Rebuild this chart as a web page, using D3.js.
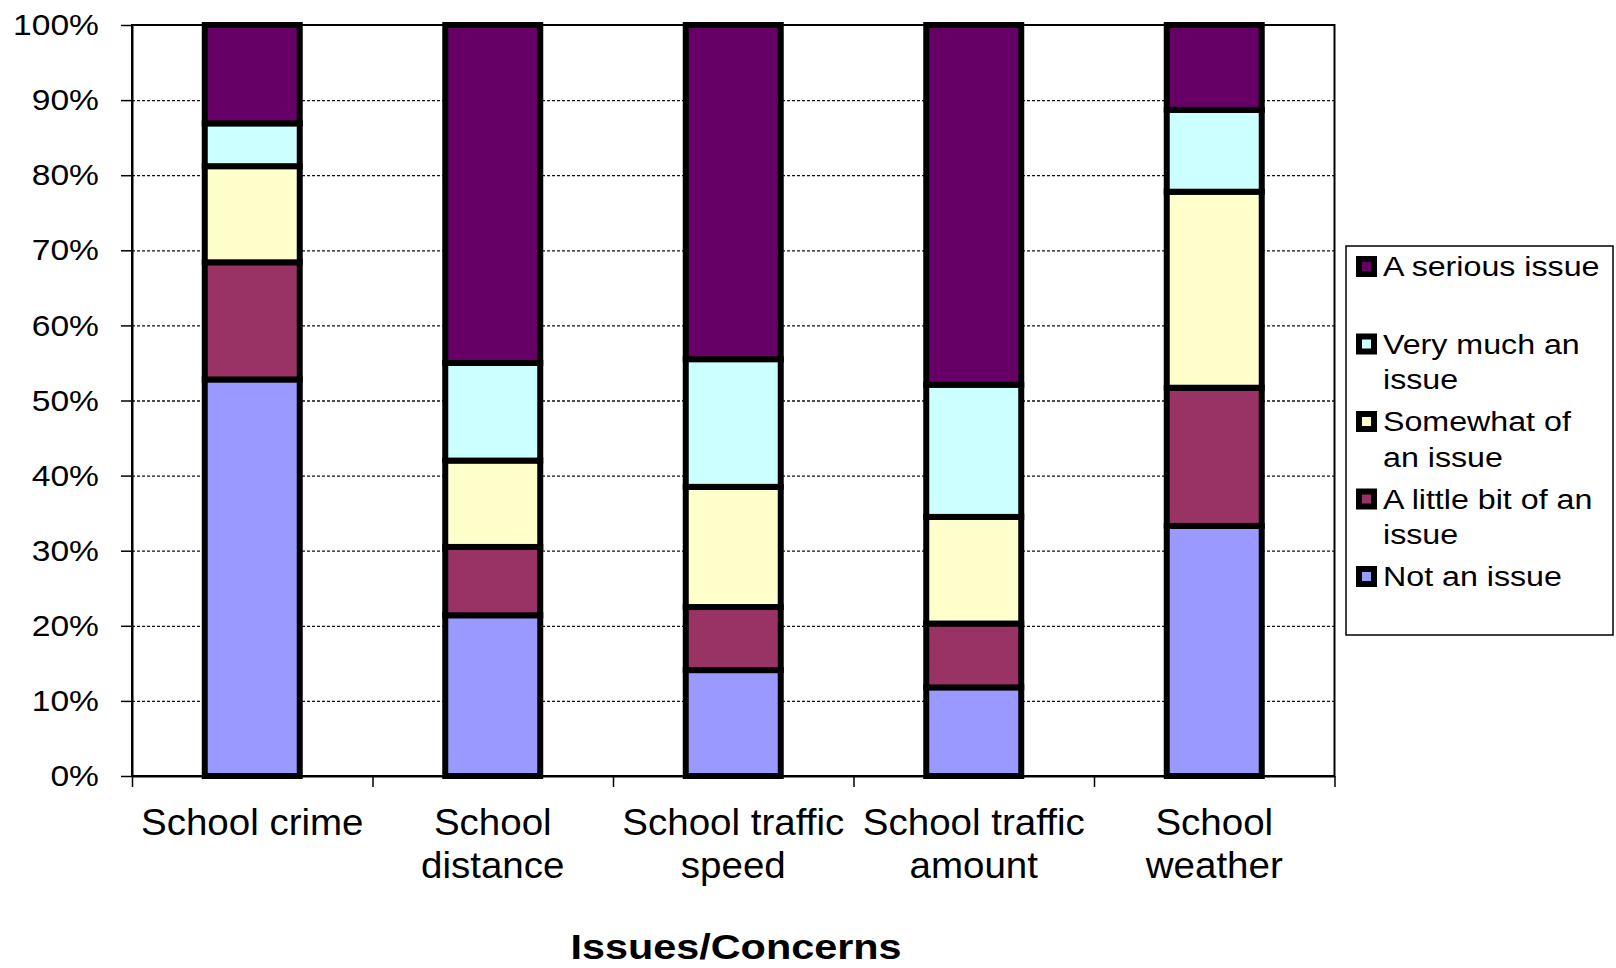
<!DOCTYPE html>
<html>
<head>
<meta charset="utf-8">
<script src="https://cdn.jsdelivr.net/npm/d3@7"></script>
<style>
  body { margin: 0; background: #fff; }
  svg { display: block; font-family: "Liberation Sans", Arial, sans-serif; }
</style>
</head>
<body>
<div class="container"></div>
<script>
// data (percent of answers)
const categories = ["School crime", "School distance", "School traffic speed", "School traffic amount", "School weather"];
const categoryLines = [["School crime"], ["School", "distance"], ["School traffic", "speed"], ["School traffic", "amount"], ["School", "weather"]];

const seriesNames = ["Not an issue", "A little bit of an issue", "Somewhat of an issue", "Very much an issue", "A serious issue"];
const legendLines = [["Not an issue"], ["A little bit of an", "issue"], ["Somewhat of", "an issue"], ["Very much an", "issue"], ["A serious issue"]];

const notAnIssue = [52.8, 21.4, 14.1, 11.8, 33.3];
const littleBit  = [15.6,  9.1,  8.4,  8.5, 18.4];
const somewhat   = [12.8, 11.5, 16.0, 14.2, 26.1];
const veryMuch   = [ 5.7, 13.0, 17.0, 17.6, 10.9];
const serious    = [13.1, 45.0, 44.5, 47.9, 11.3];

const colors = ["#9999FF", "#993366", "#FFFFCC", "#CCFFFF", "#660066"];
const yTicks = [0, 10, 20, 30, 40, 50, 60, 70, 80, 90, 100];

const allSeries = [notAnIssue, littleBit, somewhat, veryMuch, serious];
const table = categories.map((c, i) => {
    const row = { category: c };
    seriesNames.forEach((s, j) => row[s] = allSeries[j][i]);
    return row;
});

// frame
const margin = { top: 25, right: 281.5, bottom: 192, left: 132 };
const W = 1616, H = 968;
const width = W - margin.left - margin.right,
      height = H - margin.top - margin.bottom;

const svg = d3.select(".container")
    .append("svg")
    .attr("width", W)
    .attr("height", H);

svg.append("rect").attr("width", W).attr("height", H).attr("fill", "#fff");

const canvas = svg.append("g")
    .attr("transform", `translate(${margin.left}, ${margin.top})`);

const x = d3.scaleBand()
    .domain(categories)
    .range([0, width])
    .paddingInner(0.605)
    .paddingOuter(0.3025);

const y = d3.scaleLinear()
    .domain([0, 100])
    .range([height, 0]);

// dashed gridlines
canvas.append("g")
    .call(d3.axisLeft(y).tickValues(yTicks.filter(d => d > 0 && d < 100)).tickSize(-width).tickFormat(""))
    .call(g => g.select(".domain").remove())
    .selectAll("line")
    .attr("stroke", "#111")
    .attr("stroke-width", 1.3)
    .attr("stroke-dasharray", "3,2");

// plot frame
canvas.append("rect")
    .attr("width", width)
    .attr("height", height)
    .attr("fill", "none")
    .attr("stroke", "#000")
    .attr("stroke-width", 2);

// y axis
const yAxis = canvas.append("g")
    .call(d3.axisLeft(y).tickValues(yTicks).tickFormat(d => d + "%").tickSize(11).tickSizeOuter(0).tickPadding(18.5));
yAxis.select(".domain").attr("stroke-width", 2);
yAxis.selectAll("line").attr("stroke-width", 1.5);
yAxis.selectAll("text")
    .attr("fill", "#000")
    .style("font-size", "30px")
    .attr("transform", "scale(1.12,1)");

// x axis: ticks between categories
const xEdge = d3.scaleLinear().domain([0, categories.length]).range([0, width]);
const xAxis = canvas.append("g")
    .attr("transform", `translate(0, ${height})`)
    .call(d3.axisBottom(xEdge).ticks(categories.length).tickFormat("").tickSize(11).tickSizeOuter(0));
xAxis.select(".domain").attr("stroke-width", 2);
xAxis.selectAll("line").attr("stroke-width", 1.5);

// category labels
const labels = canvas.append("g")
    .selectAll("g")
    .data(categories)
    .join("g")
    .attr("transform", d => `translate(${x(d) + x.bandwidth() / 2}, ${height + 59})`);

labels.append("text")
    .attr("text-anchor", "middle")
    .attr("transform", "scale(1.07,1)")
    .style("font-size", "36px")
    .attr("fill", "#000")
    .selectAll("tspan")
    .data((d, i) => categoryLines[i])
    .join("tspan")
    .attr("x", 0)
    .attr("y", (d, i) => i * 43)
    .text(d => d);

// stacked bars
const stack = d3.stack().keys(seriesNames);
const layers = stack(table);

canvas.append("g")
    .selectAll("g")
    .data(layers)
    .join("g")
    .attr("fill", (d, i) => colors[i])
    .selectAll("rect")
    .data(d => d)
    .join("rect")
    .attr("x", d => x(d.data.category))
    .attr("y", d => y(d[1]))
    .attr("width", x.bandwidth())
    .attr("height", d => y(d[0]) - y(d[1]))
    .attr("stroke", "#000")
    .attr("stroke-width", 6);

// axis title
svg.append("g")
    .attr("transform", "translate(736, 959)")
    .append("text")
    .attr("text-anchor", "middle")
    .attr("transform", "scale(1.15,1)")
    .style("font-size", "36px")
    .style("font-weight", "bold")
    .attr("fill", "#000")
    .text("Issues/Concerns");

// legend (top entry is the top layer)
const legend = svg.append("g");

legend.append("rect")
    .attr("x", 1346)
    .attr("y", 246)
    .attr("width", 267)
    .attr("height", 389)
    .attr("fill", "#fff")
    .attr("stroke", "#000")
    .attr("stroke-width", 1.5);

const legendOrder = d3.range(seriesNames.length).reverse();

const items = legend.selectAll("g.item")
    .data(legendOrder)
    .join("g")
    .attr("class", "item")
    .attr("transform", (d, i) => `translate(1359, ${276 + i * 77.5})`);

items.append("rect")
    .attr("x", 0)
    .attr("y", -17)
    .attr("width", 15)
    .attr("height", 15)
    .attr("fill", d => colors[d])
    .attr("stroke", "#000")
    .attr("stroke-width", 6);

items.append("text")
    .attr("transform", "translate(24, 0) scale(1.15,1)")
    .style("font-size", "28px")
    .attr("fill", "#000")
    .selectAll("tspan")
    .data(d => legendLines[d])
    .join("tspan")
    .attr("x", 0)
    .attr("y", (d, i) => i * 36)
    .text(d => d);
</script>
</body>
</html>
